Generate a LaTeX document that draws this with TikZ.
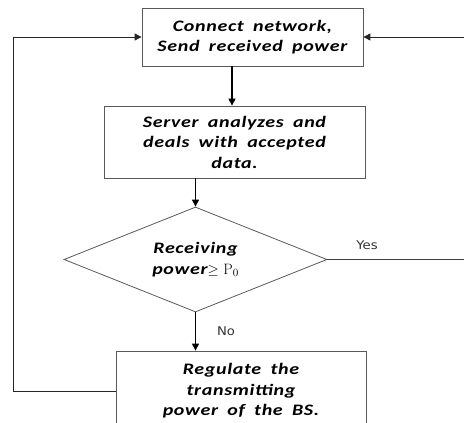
\documentclass[tikz,border=0pt]{standalone}
\usepackage{fontspec}
\usetikzlibrary{shapes.geometric,arrows.meta}
\newfontfamily\boxfont[FakeStretch=1.25,LetterSpace=4,WordSpace=1.8]{Carlito}
\newfontfamily\labfont[FakeStretch=1.1]{DejaVu Sans}
\newfontfamily\serfont{DejaVu Serif}
\tikzset{
  boxtext/.style={font=\boxfont\bfseries\itshape\fontsize{16}{20.5}\selectfont, align=center, text=black},
  flowbox/.style={draw=black!65, line width=0.8pt, rectangle, inner sep=0pt, boxtext},
  decision/.style={draw=black!65, line width=0.8pt, diamond, inner sep=0pt, boxtext},
  flow/.style={line width=1.2pt, draw=black, -{Triangle[length=7pt,width=7pt]}},
  thinflow/.style={line width=0.9pt, draw=black!85, -{Triangle[length=7pt,width=7pt]}},
  plainline/.style={line width=0.9pt, draw=black!75},
  lab/.style={font=\labfont\fontsize{12}{14}\selectfont, text=black!80}
}
\begin{document}
\begin{tikzpicture}[x=1pt,y=-1pt]
\useasboundingbox (0,0) rectangle (464,423);
\clip (0,0) rectangle (464,423);
\node[flowbox, minimum width=221pt, minimum height=58pt] (box1) at (252.5,37) {Connect network,\\Send received power};
\node[flowbox, minimum width=261pt, minimum height=72pt] (box2) at (234.5,142) {Server analyzes and\\deals with accepted\\data.};
\node[decision, minimum width=263pt, minimum height=105pt, aspect=2.5] (dia) at (195.5,259.5) {Receiving\\power{\normalfont\fontsize{15}{20}\selectfont$\geq$ $\mathrm{P}_0$}};
\node[flowbox, minimum width=250pt, minimum height=80pt] (box4) at (241,391) {Regulate the\\transmitting\\power of the BS.};
\coordinate (cx) at (232,0);
\coordinate (L) at (13,0);
\coordinate (R) at (464,0);
\draw[flow] (box1.south -| cx) -- (box2.north -| cx);
\draw[flow] (box2.south -| dia.north) -- (dia.north);
\draw[flow] (dia.south) -- (box4.north -| dia.south);
\draw[plainline] (dia.east) -- (R |- dia.east);
\draw[thinflow] (R |- box1.east) -- (box1.east);
\draw[thinflow] (box4.west) -- (box4.west -| L) |- (box1.west);
\node[lab] (yes) at (367,245) {Yes};
\node[lab] (no) at (226,331) {No};
\end{tikzpicture}
\end{document}
